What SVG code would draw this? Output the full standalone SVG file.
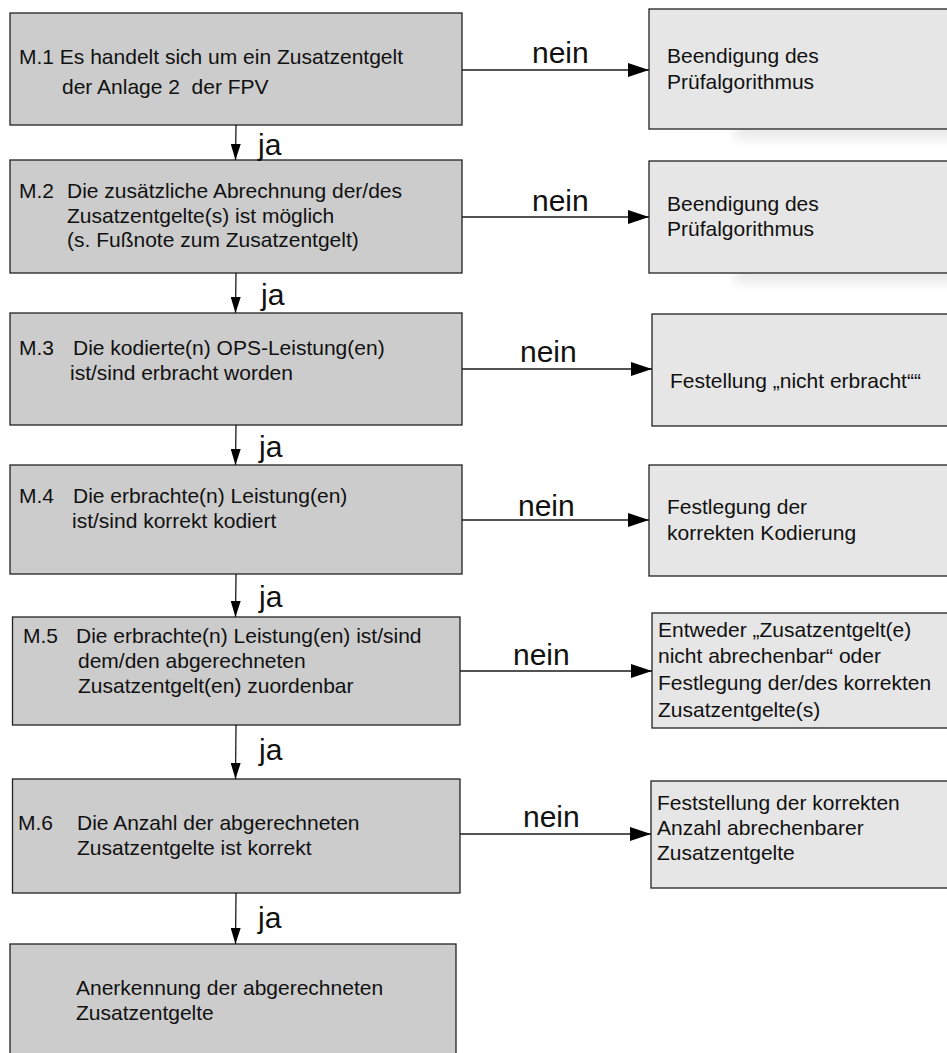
<svg xmlns="http://www.w3.org/2000/svg" width="947" height="1053" viewBox="0 0 947 1053">
<style>
  .lbox { fill: #cccccc; stroke: #222222; stroke-width: 1.3; }
  .rbox { fill: #e6e6e6; stroke: #222222; stroke-width: 1.3; }
  .t { font-family: "Liberation Sans", Arial, sans-serif; font-size: 21px; fill: #111111; white-space: pre; }
  .lbl { font-family: "Liberation Sans", Arial, sans-serif; font-size: 30px; fill: #111111; }
  .conn { stroke: #1a1a1a; stroke-width: 1.3; fill: none; }
</style>
<defs>
  <marker id="ah" viewBox="0 0 21 14" refX="21" refY="7" markerWidth="21" markerHeight="14" markerUnits="userSpaceOnUse" orient="auto">
    <path d="M0,0 L21,7 L0,14 z" fill="#000000"/>
  </marker>
  <marker id="av" viewBox="0 0 16 10" refX="16" refY="5" markerWidth="16" markerHeight="10" markerUnits="userSpaceOnUse" orient="auto">
    <path d="M0,0 L16,5 L0,10 z" fill="#000000"/>
  </marker>
  <filter id="sh" x="-20%" y="-100%" width="140%" height="300%">
    <feGaussianBlur stdDeviation="6"/>
  </filter>
</defs>
<rect width="947" height="1053" fill="#ffffff"/>

<g id="shadows">
  <rect x="735" y="126" width="260" height="12" fill="#000000" opacity="0.10" filter="url(#sh)"/>
  <rect x="735" y="270" width="260" height="12" fill="#000000" opacity="0.10" filter="url(#sh)"/>
</g>

<g id="m1">
  <rect class="lbox" x="10" y="13" width="452" height="112"/>
  <text class="t" x="19" y="64">M.1 Es handelt sich um ein Zusatzentgelt</text>
  <text class="t" x="62" y="94">der Anlage 2  der FPV</text>
</g>
<g id="m2">
  <rect class="lbox" x="10" y="160" width="452" height="113"/>
  <text class="t" x="19" y="198">M.2</text>
  <text class="t" x="67" y="198">Die zusätzliche Abrechnung der/des</text>
  <text class="t" x="67" y="223">Zusatzentgelte(s) ist möglich</text>
  <text class="t" x="67" y="247">(s. Fußnote zum Zusatzentgelt)</text>
</g>
<g id="m3">
  <rect class="lbox" x="10" y="313" width="452" height="112"/>
  <text class="t" x="19" y="355">M.3</text>
  <text class="t" x="73" y="355">Die kodierte(n) OPS-Leistung(en)</text>
  <text class="t" x="70" y="380">ist/sind erbracht worden</text>
</g>
<g id="m4">
  <rect class="lbox" x="10" y="465" width="452" height="109"/>
  <text class="t" x="19" y="503">M.4</text>
  <text class="t" x="73" y="503">Die erbrachte(n) Leistung(en)</text>
  <text class="t" x="72" y="528">ist/sind korrekt kodiert</text>
</g>
<g id="m5">
  <rect class="lbox" x="12.5" y="617" width="447.5" height="108"/>
  <text class="t" x="23" y="643">M.5</text>
  <text class="t" x="76" y="643">Die erbrachte(n) Leistung(en) ist/sind</text>
  <text class="t" x="78" y="668">dem/den abgerechneten</text>
  <text class="t" x="78" y="693">Zusatzentgelt(en) zuordenbar</text>
</g>
<g id="m6">
  <rect class="lbox" x="12.5" y="779" width="447.5" height="114"/>
  <text class="t" x="18" y="830">M.6</text>
  <text class="t" x="77" y="830">Die Anzahl der abgerechneten</text>
  <text class="t" x="77" y="855">Zusatzentgelte ist korrekt</text>
</g>
<g id="end">
  <rect class="lbox" x="10" y="944" width="446" height="130"/>
  <text class="t" x="76" y="995">Anerkennung der abgerechneten</text>
  <text class="t" x="76" y="1020">Zusatzentgelte</text>
</g>

<g id="r1">
  <rect class="rbox" x="649" y="9" width="320" height="120"/>
  <text class="t" x="667" y="63">Beendigung des</text>
  <text class="t" x="667" y="89">Prüfalgorithmus</text>
</g>
<g id="r2">
  <rect class="rbox" x="649" y="161" width="320" height="112"/>
  <text class="t" x="667" y="211">Beendigung des</text>
  <text class="t" x="667" y="236">Prüfalgorithmus</text>
</g>
<g id="r3">
  <rect class="rbox" x="652" y="314" width="320" height="112"/>
  <text class="t" x="670" y="388">Festellung „nicht erbracht““</text>
</g>
<g id="r4">
  <rect class="rbox" x="649" y="465" width="320" height="111"/>
  <text class="t" x="667" y="514">Festlegung der</text>
  <text class="t" x="667" y="540">korrekten Kodierung</text>
</g>
<g id="r5">
  <rect class="rbox" x="652" y="613" width="320" height="115"/>
  <text class="t" x="658" y="637">Entweder „Zusatzentgelt(e)</text>
  <text class="t" x="658" y="663">nicht abrechenbar“ oder</text>
  <text class="t" x="658" y="690">Festlegung der/des korrekten</text>
  <text class="t" x="658" y="717">Zusatzentgelte(s)</text>
</g>
<g id="r6">
  <rect class="rbox" x="651" y="781" width="320" height="107"/>
  <text class="t" x="657" y="810">Feststellung der korrekten</text>
  <text class="t" x="657" y="835">Anzahl abrechenbarer</text>
  <text class="t" x="657" y="860">Zusatzentgelte</text>
</g>

<g id="connectors">
  <line class="conn" x1="462" y1="70" x2="649" y2="70" marker-end="url(#ah)"/>
  <line class="conn" x1="462" y1="217" x2="649" y2="217" marker-end="url(#ah)"/>
  <line class="conn" x1="462" y1="369" x2="652" y2="369" marker-end="url(#ah)"/>
  <line class="conn" x1="462" y1="520" x2="649" y2="520" marker-end="url(#ah)"/>
  <line class="conn" x1="460" y1="671" x2="652" y2="671" marker-end="url(#ah)"/>
  <line class="conn" x1="460" y1="834" x2="651" y2="834" marker-end="url(#ah)"/>

  <line class="conn" x1="236" y1="125" x2="235.5" y2="160" marker-end="url(#av)"/>
  <line class="conn" x1="236" y1="273" x2="235.5" y2="313" marker-end="url(#av)"/>
  <line class="conn" x1="236" y1="425" x2="235.5" y2="465" marker-end="url(#av)"/>
  <line class="conn" x1="236" y1="574" x2="235.5" y2="617" marker-end="url(#av)"/>
  <line class="conn" x1="236" y1="725" x2="235.5" y2="779" marker-end="url(#av)"/>
  <line class="conn" x1="236" y1="893" x2="235.5" y2="944" marker-end="url(#av)"/>

  <text class="lbl" x="532" y="63">nein</text>
  <text class="lbl" x="532" y="211">nein</text>
  <text class="lbl" x="520" y="362">nein</text>
  <text class="lbl" x="518" y="516">nein</text>
  <text class="lbl" x="513" y="665">nein</text>
  <text class="lbl" x="523" y="827">nein</text>

  <text class="lbl" x="258" y="155">ja</text>
  <text class="lbl" x="261" y="305">ja</text>
  <text class="lbl" x="259" y="457">ja</text>
  <text class="lbl" x="259" y="607">ja</text>
  <text class="lbl" x="259" y="760">ja</text>
  <text class="lbl" x="258" y="928">ja</text>
</g>
</svg>
